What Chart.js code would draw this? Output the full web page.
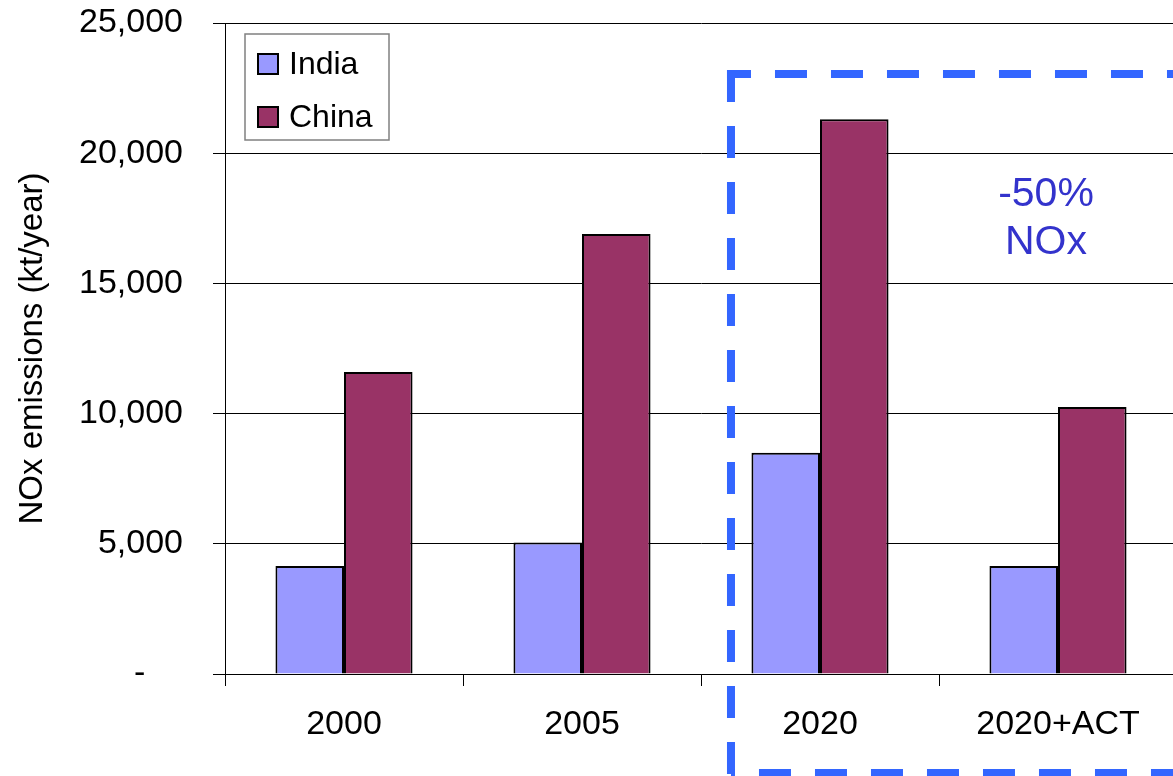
<!DOCTYPE html>
<html>
<head>
<meta charset="utf-8">
<script src="https://cdn.jsdelivr.net/npm/chart.js@4"></script>
<style>
  html, body { margin: 0; padding: 0; background: #fff; overflow: hidden; }
  #wrap { position: absolute; left: 0; top: 0; width: 1177px; height: 776px; }
</style>
</head>
<body>
<div id="wrap"><canvas id="noxChart" width="1177" height="776"></canvas></div>
<script>
const categories = ['2000', '2005', '2020', '2020+ACT'];
const indiaValues = [4150, 5050, 8500, 4150];
const chinaValues = [11600, 16900, 21300, 10250];
const yTicks = [0, 5000, 10000, 15000, 20000, 25000];

const FONT = '"Liberation Sans", Arial, sans-serif';

// legend box inside the plot, top left
const boxLegend = {
    id: 'boxLegend',
    afterDraw(chart) {
        const ctx = chart.ctx;
        const area = chart.chartArea;
        const x0 = area.left + 20, y0 = area.top + 11;
        ctx.save();
        ctx.strokeStyle = '#808080';
        ctx.lineWidth = 1.5;
        ctx.strokeRect(x0, y0, 144, 106);
        ctx.font = '32px ' + FONT;
        ctx.textBaseline = 'middle';
        chart.data.datasets.forEach((ds, i) => {
            const cy = y0 + 30 + i * 53;
            ctx.fillStyle = ds.backgroundColor;
            ctx.fillRect(x0 + 13, cy - 10, 20, 20);
            ctx.strokeStyle = '#000';
            ctx.lineWidth = 2;
            ctx.strokeRect(x0 + 13, cy - 10, 20, 20);
            ctx.fillStyle = '#000';
            ctx.fillText(ds.label, x0 + 44, cy + 1);
        });
        ctx.restore();
    }
};

// dashed box round the 2020 scenarios
const scenarioBox = {
    id: 'scenarioBox',
    afterDraw(chart) {
        const ctx = chart.ctx;
        const x = chart.scales.x, y = chart.scales.y;
        const catW = x.getPixelForValue(1) - x.getPixelForValue(0);
        const left = x.getPixelForValue(2) - catW * 0.374;
        const top = y.getPixelForValue(23040);
        const bottom = chart.height - 3;
        ctx.save();
        ctx.strokeStyle = '#3366FF';
        ctx.lineWidth = 8;
        ctx.setLineDash([32, 24]);
        // left side, from the corner down
        ctx.beginPath();
        ctx.moveTo(left, top - 4);
        ctx.lineTo(left, chart.height + 10);
        ctx.stroke();
        // top side
        ctx.lineDashOffset = 8;
        ctx.beginPath();
        ctx.moveTo(left - 4, top);
        ctx.lineTo(chart.width + 20, top);
        ctx.stroke();
        // bottom side
        ctx.lineDashOffset = 28;
        ctx.beginPath();
        ctx.moveTo(left, bottom);
        ctx.lineTo(chart.width + 20, bottom);
        ctx.stroke();
        ctx.fillStyle = '#3333CC';
        ctx.font = '41px ' + FONT;
        ctx.textAlign = 'center';
        ctx.textBaseline = 'middle';
        const cx = x.getPixelForValue(3) - 12;
        ctx.fillText('-50%', cx, y.getPixelForValue(18400));
        ctx.fillText('NOx', cx, y.getPixelForValue(16550));
        ctx.restore();
    }
};

const ctx = document.getElementById('noxChart').getContext('2d');
const chart = new Chart(ctx, {
    type: 'bar',
    data: {
        labels: categories,
        datasets: [{
            label: 'India',
            data: indiaValues,
            backgroundColor: '#9999FF',
            borderColor: '#000',
            borderWidth: 2
        }, {
            label: 'China',
            data: chinaValues,
            backgroundColor: '#993366',
            borderColor: '#000',
            borderWidth: 2
        }]
    },
    options: {
        responsive: false,
        animation: false,
        layout: { padding: { top: 23, right: 0, left: 0, bottom: 0 } },
        plugins: {
            legend: { display: false },
            tooltip: { enabled: false }
        },
        datasets: {
            bar: { categoryPercentage: 0.576, barPercentage: 1 }
        },
        scales: {
            x: {
                offset: true,
                grid: { offset: true, drawOnChartArea: false, tickLength: 12, color: '#000' },
                border: { color: '#000', width: 1 },
                ticks: { color: '#000', font: { size: 34, family: FONT }, padding: 18, maxRotation: 0 },
                afterFit: s => { s.height = 102; s.paddingLeft = 0; s.paddingRight = 0; }
            },
            y: {
                min: 0,
                max: 25000,
                afterBuildTicks: s => { s.ticks = yTicks.map(v => ({ value: v })); },
                grid: { color: '#000', tickLength: 12 },
                border: { color: '#000', width: 1 },
                ticks: {
                    color: '#000',
                    font: { size: 34, family: FONT },
                    padding: 30,
                    callback: v => v === 0 ? '-    ' : v.toLocaleString('en-US')
                },
                title: {
                    display: true,
                    text: 'NOx emissions (kt/year)',
                    color: '#000',
                    font: { size: 33, family: FONT },
                    padding: { top: 13, bottom: 0 }
                },
                afterFit: s => { s.width = 225; s.paddingTop = 0; s.paddingBottom = 0; }
            }
        }
    },
    plugins: [boxLegend, scenarioBox]
});
</script>
</body>
</html>
